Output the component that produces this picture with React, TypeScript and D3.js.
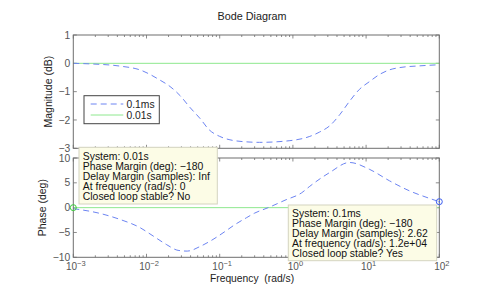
import React, { useEffect, useRef } from "react";
import * as d3 from "d3";

// 0.1ms system, magnitude (dB)
const magFreq = [0.001, 0.0017, 0.0044, 0.0081, 0.015, 0.021, 0.029, 0.039, 0.054, 0.072, 0.1, 0.138, 0.26, 0.35, 0.91, 1.7, 2.3, 3.2, 4.4, 5.9, 8.1, 11.2, 15.1, 20.9, 28.8, 53.7, 100];
const magFast = [0, -0.02, -0.1, -0.23, -0.58, -0.82, -1.15, -1.55, -1.95, -2.35, -2.58, -2.7, -2.78, -2.79, -2.73, -2.58, -2.43, -2.2, -1.8, -1.35, -0.92, -0.64, -0.4, -0.23, -0.15, -0.09, -0.05];

// 0.1ms system, phase (deg)
const phaseFreq = [0.001, 0.0023, 0.0044, 0.0081, 0.0123, 0.0186, 0.027, 0.036, 0.056, 0.081, 0.117, 0.162, 0.234, 0.3, 0.46, 0.78, 1.32, 1.7, 3.2, 5.9, 11.2, 20.9, 38.9, 72.4, 100];
const phaseFast = [-0.2, -1.15, -2.4, -4.0, -5.7, -7.4, -8.6, -8.75, -7.7, -6.4, -4.85, -3.4, -2.0, -1.1, 0, 1.5, 3.0, 4.3, 7.1, 9.1, 7.7, 5.4, 3.4, 1.9, 1.2];

// 0.01s system (flat)
const slowFreq = [0.001, 100];
const magSlow = [0, 0];
const phaseSlow = [0, 0];

const magTicks = [1, 0, -1, -2, -3];
const phaseTicks = [10, 5, 0, -5, -10];
const freqDecades = [-3, -2, -1, 0, 1, 2];

const legendLabels = ["0.1ms", "0.01s"];
const tipSlow = ["System: 0.01s", "Phase Margin (deg): \u2212180", "Delay Margin (samples): Inf", "At frequency (rad/s): 0", "Closed loop stable? No"];
const tipFast = ["System: 0.1ms", "Phase Margin (deg): \u2212180", "Delay Margin (samples): 2.62", "At frequency (rad/s): 1.2e+04", "Closed loop stable? Yes"];

const BLUE = "#6c84f2";
const GREEN = "#8ee88e";
const AXIS = "#6e6e6e";
const FONT = "'Liberation Sans', Arial, sans-serif";

const BodeChart = () => {
  const svgRef = useRef(null);

  useEffect(() => {
    draw();
  }, []);

  const draw = () => {
    const svg = d3.select(svgRef.current);
    svg.selectAll("*").remove();

    const left = 73.3;
    const right = 439.3;
    const top1 = 35, bot1 = 148.3;
    const top2 = 158, bot2 = 257.3;

    const x = d3.scaleLog().domain([1e-3, 1e2]).range([left, right]);
    const yMag = d3.scaleLinear().domain([-3, 1]).range([bot1, top1]);
    const yPh = d3.scaleLinear().domain([-10, 10]).range([bot2, top2]);

    const fmt = (v) => (v < 0 ? "\u2212" + Math.abs(v) : String(v));

    const panel = (y, ticks, top, bot) => {
      const g = svg.append("g");
      g.append("rect")
        .attr("x", left).attr("y", top)
        .attr("width", right - left).attr("height", bot - top)
        .attr("fill", "#fff");
      // x ticks (log, top and bottom, inward)
      freqDecades.forEach((d) => {
        for (let k = 1; k <= 9; k++) {
          const f = k * Math.pow(10, d);
          if (f > 100.0001) continue;
          const px = x(f);
          const len = k === 1 ? 3.5 : 2;
          g.append("line").attr("x1", px).attr("x2", px).attr("y1", bot).attr("y2", bot - len).attr("stroke", AXIS).attr("stroke-width", 0.8);
          g.append("line").attr("x1", px).attr("x2", px).attr("y1", top).attr("y2", top + len).attr("stroke", AXIS).attr("stroke-width", 0.8);
        }
      });
      ticks.forEach((t) => {
        const py = y(t);
        g.append("line").attr("x1", left).attr("x2", left + 3.5).attr("y1", py).attr("y2", py).attr("stroke", AXIS).attr("stroke-width", 0.8);
        g.append("line").attr("x1", right).attr("x2", right - 3.5).attr("y1", py).attr("y2", py).attr("stroke", AXIS).attr("stroke-width", 0.8);
        g.append("text")
          .attr("x", left - 3).attr("y", py + 3.6)
          .attr("text-anchor", "end")
          .attr("font-family", FONT).attr("font-size", 10.3)
          .attr("fill", "#555")
          .text(fmt(t));
      });
      return g;
    };

    // Title
    svg.append("text")
      .attr("x", 252).attr("y", 20)
      .attr("text-anchor", "middle")
      .attr("font-family", FONT).attr("font-size", 10.8)
      .attr("fill", "#222")
      .text("Bode Diagram");

    // Magnitude panel
    const g1 = panel(yMag, magTicks, top1, bot1);
    const magLine = d3.line().x((d) => x(d[0])).y((d) => yMag(d[1])).curve(d3.curveMonotoneX);
    g1.append("path").datum(slowFreq.map((f, i) => [f, magSlow[i]]))
      .attr("fill", "none").attr("stroke", GREEN).attr("stroke-width", 1).attr("d", magLine);
    g1.append("path").datum(magFreq.map((f, i) => [f, magFast[i]]))
      .attr("fill", "none").attr("stroke", BLUE).attr("stroke-width", 1)
      .attr("stroke-dasharray", "6,4").attr("d", magLine);
    g1.append("rect")
      .attr("x", left).attr("y", top1).attr("width", right - left).attr("height", bot1 - top1)
      .attr("fill", "none").attr("stroke", AXIS).attr("stroke-width", 1);

    // Legend
    const lg = svg.append("g");
    lg.append("rect").attr("x", 84).attr("y", 95.7).attr("width", 75.3).attr("height", 28)
      .attr("fill", "#fff").attr("stroke", "#444").attr("stroke-width", 1);
    legendLabels.forEach((lab, i) => {
      const ly = 104 + i * 11;
      lg.append("line").attr("x1", 90.7).attr("x2", 123.3).attr("y1", ly).attr("y2", ly)
        .attr("stroke", i === 0 ? BLUE : GREEN).attr("stroke-width", 1)
        .attr("stroke-dasharray", i === 0 ? "6,4" : null);
      lg.append("text").attr("x", 126.5).attr("y", ly + 3.7)
        .attr("font-family", FONT).attr("font-size", 10.3).attr("fill", "#222").text(lab);
    });

    // Phase panel
    const g2 = panel(yPh, phaseTicks, top2, bot2);
    const phLine = d3.line().x((d) => x(d[0])).y((d) => yPh(d[1])).curve(d3.curveMonotoneX);
    g2.append("path").datum(slowFreq.map((f, i) => [f, phaseSlow[i]]))
      .attr("fill", "none").attr("stroke", GREEN).attr("stroke-width", 1).attr("d", phLine);
    g2.append("path").datum(phaseFreq.map((f, i) => [f, phaseFast[i]]))
      .attr("fill", "none").attr("stroke", BLUE).attr("stroke-width", 1)
      .attr("stroke-dasharray", "6,4").attr("d", phLine);
    g2.append("rect")
      .attr("x", left).attr("y", top2).attr("width", right - left).attr("height", bot2 - top2)
      .attr("fill", "none").attr("stroke", AXIS).attr("stroke-width", 1);

    // x tick labels
    freqDecades.forEach((d) => {
      const t = svg.append("text")
        .attr("x", x(Math.pow(10, d)) + 2.5).attr("y", 270)
        .attr("text-anchor", "middle")
        .attr("font-family", FONT).attr("font-size", 10).attr("fill", "#555");
      t.append("tspan").text("10");
      t.append("tspan").attr("dy", -4.5).attr("font-size", 7.5).text(fmt(d));
    });

    // axis labels
    svg.append("text").attr("x", 252).attr("y", 282)
      .attr("text-anchor", "middle").attr("font-family", FONT).attr("font-size", 10.3).attr("fill", "#222")
      .style("white-space", "pre")
      .text("Frequency  (rad/s)");
    svg.append("text").attr("transform", `translate(52,${(top1 + bot1) / 2}) rotate(-90)`)
      .attr("text-anchor", "middle").attr("font-family", FONT).attr("font-size", 10.5).attr("fill", "#222")
      .text("Magnitude (dB)");
    svg.append("text").attr("transform", `translate(45.5,${(top2 + bot2) / 2}) rotate(-90)`)
      .attr("text-anchor", "middle").attr("font-family", FONT).attr("font-size", 10.5).attr("fill", "#222")
      .text("Phase (deg)");

    // markers
    svg.append("circle")
      .attr("cx", x(slowFreq[0])).attr("cy", yPh(phaseSlow[0])).attr("r", 3)
      .attr("fill", "none").attr("stroke", "#3ccf3c").attr("stroke-width", 1);
    const n = phaseFreq.length - 1;
    svg.append("circle")
      .attr("cx", x(phaseFreq[n])).attr("cy", yPh(phaseFast[n])).attr("r", 3)
      .attr("fill", "none").attr("stroke", "#3c5ef0").attr("stroke-width", 1);
    svg.append("circle")
      .attr("cx", x(phaseFreq[n])).attr("cy", yPh(phaseFast[n])).attr("r", 0.8)
      .attr("fill", "#3c5ef0");

    // data tips
    const tip = (bx, by, bw, bh, lines) => {
      const g = svg.append("g");
      g.append("rect").attr("x", bx).attr("y", by).attr("width", bw).attr("height", bh)
        .attr("fill", "#fcfce6").attr("stroke", "#d4d4c0").attr("stroke-width", 1);
      lines.forEach((s, i) => {
        g.append("text").attr("x", bx + 3.8).attr("y", by + 12.2 + i * 10)
          .attr("font-family", FONT).attr("font-size", 10.4).attr("fill", "#111").text(s);
      });
    };
    tip(79, 147.3, 138.3, 56.7, tipSlow);
    tip(288.3, 205, 148.4, 55.7, tipFast);
  };

  return (
    <svg
      ref={svgRef}
      width="485"
      height="291"
      style={{ position: "absolute", left: 0, top: 0, background: "#fff" }}
    ></svg>
  );
};

export default function App() {
  return <BodeChart />;
}
